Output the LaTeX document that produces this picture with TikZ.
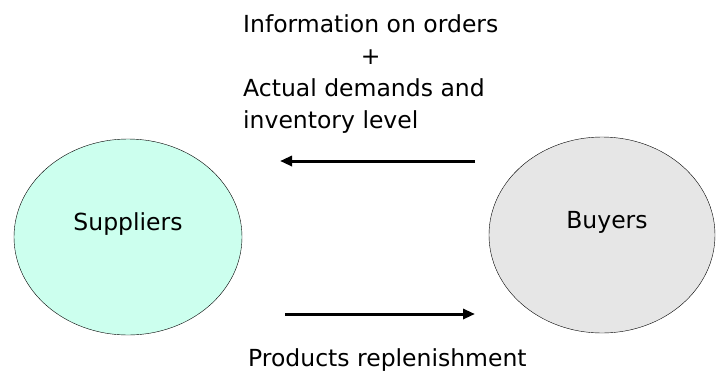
\documentclass[tikz,border=0pt]{standalone}
\usepackage{fontspec}
\setmainfont{DejaVu Sans}
\usepackage{xcolor}
\usepackage{tikz}
\usetikzlibrary{arrows.meta,positioning,shapes.geometric}

\definecolor{supfill}{RGB}{204,255,238}
\definecolor{buyfill}{RGB}{230,230,230}

\begin{document}
\begin{tikzpicture}[
  x=1pt, y=-1pt,
  party/.style={draw, ellipse, thin, minimum width=228pt, minimum height=196pt, inner sep=0pt},
  lbl/.style={font=\fontsize{23.5}{32}\selectfont, inner sep=0pt},
  flow/.style={-{Triangle[length=12pt,width=10pt]}, line width=3pt}
]
\useasboundingbox (0,0) rectangle (716,376);

\node[party, fill=supfill, label={[lbl, yshift=13pt]center:Suppliers}] (sup) at (128,237) {};
\node[party, fill=buyfill, minimum width=226pt, label={[lbl, xshift=5pt, yshift=13pt]center:Buyers}] (buy) at (602,235) {};

\node[lbl, anchor=base west] (info) at (243,32)
  {\begin{tabular}[t]{@{}l@{}}Information on orders\\ \multicolumn{1}{@{}c@{}}{+}\\ Actual demands and\\ inventory level\end{tabular}};
\node[lbl, anchor=base west] (prod) at (248,366) {Products replenishment};

\coordinate (infoS) at (475,161);
\coordinate (infoE) at (280,161);
\coordinate (prodS) at (285,314);
\coordinate (prodE) at (475,314);

\draw[flow] (infoS) -- (infoE);
\draw[flow] (prodS) -- (prodE);
\end{tikzpicture}
\end{document}
